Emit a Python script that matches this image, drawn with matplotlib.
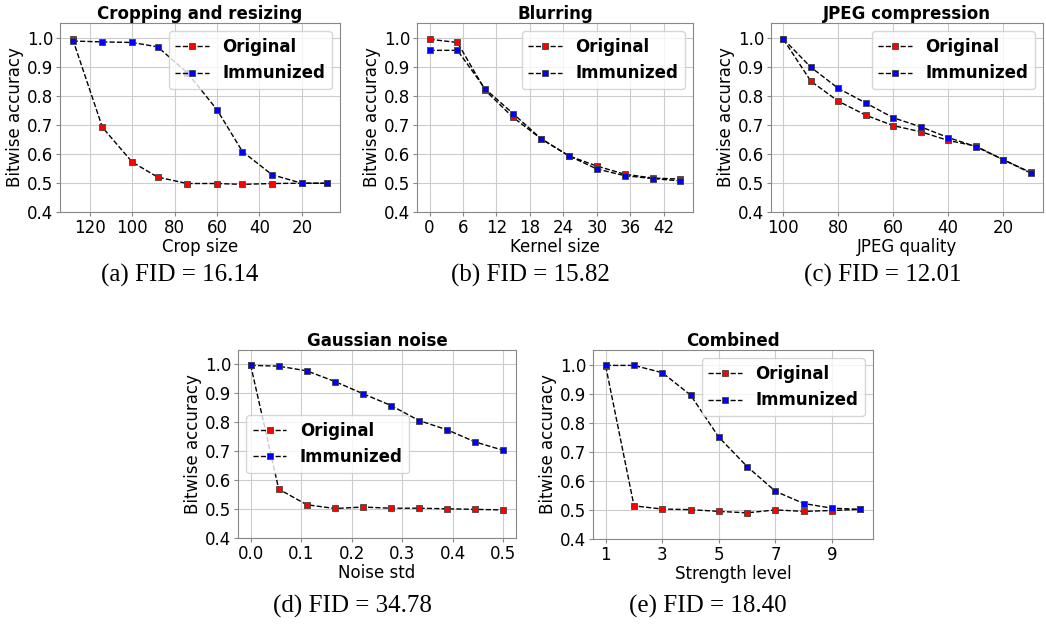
import matplotlib
matplotlib.use('Agg')
import matplotlib.pyplot as plt
import numpy as np

plt.rcParams['font.family'] = 'DejaVu Sans'

# Dados
crop_x = [128, 114, 100, 88, 74, 60, 48, 34, 20, 8]
crop_orig = [0.994, 0.691, 0.572, 0.520, 0.498, 0.498, 0.495, 0.498, 0.499, 0.499]
crop_imm = [0.988, 0.985, 0.983, 0.968, 0.879, 0.752, 0.608, 0.528, 0.499, 0.499]

blur_x = [0, 5, 10, 15, 20, 25, 30, 35, 40, 45]
blur_orig = [0.994, 0.983, 0.818, 0.725, 0.652, 0.593, 0.558, 0.530, 0.517, 0.513]
blur_imm = [0.956, 0.956, 0.823, 0.738, 0.652, 0.593, 0.548, 0.525, 0.515, 0.507]

jpeg_x = [100, 90, 80, 70, 60, 50, 40, 30, 20, 10]
jpeg_orig = [0.994, 0.850, 0.781, 0.733, 0.697, 0.676, 0.646, 0.627, 0.580, 0.536]
jpeg_imm = [0.995, 0.898, 0.825, 0.775, 0.724, 0.693, 0.656, 0.625, 0.580, 0.534]

noise_x = [0.0, 0.0556, 0.1111, 0.1667, 0.2222, 0.2778, 0.3333, 0.3889, 0.4444, 0.5]
noise_orig = [0.998, 0.569, 0.515, 0.502, 0.507, 0.503, 0.503, 0.501, 0.499, 0.497]
noise_imm = [0.997, 0.994, 0.978, 0.941, 0.899, 0.858, 0.806, 0.774, 0.732, 0.703]

comb_x = [1, 2, 3, 4, 5, 6, 7, 8, 9, 10]
comb_orig = [0.994, 0.514, 0.503, 0.501, 0.495, 0.490, 0.500, 0.495, 0.498, 0.502]
comb_imm = [0.997, 0.997, 0.972, 0.895, 0.750, 0.649, 0.564, 0.522, 0.506, 0.502]

captions = ['(a) FID = 16.14', '(b) FID = 15.82', '(c) FID = 12.01',
            '(d) FID = 34.78', '(e) FID = 18.40']

W, H = 1046, 628
fig = plt.figure(figsize=(W / 100, H / 100), dpi=100)


def make_ax(l, r, t, b):
    return fig.add_axes([l / W, 1 - b / H, (r - l) / W, (b - t) / H])


paineis = [
    (make_ax(60, 340, 23, 212), crop_x, crop_orig, crop_imm, 'Cropping and resizing', 'Crop size', 'upper right'),
    (make_ax(417, 693, 23, 212), blur_x, blur_orig, blur_imm, 'Blurring', 'Kernel size', 'upper right'),
    (make_ax(771, 1043, 23, 212), jpeg_x, jpeg_orig, jpeg_imm, 'JPEG compression', 'JPEG quality', 'upper right'),
    (make_ax(238, 516, 350, 538), noise_x, noise_orig, noise_imm, 'Gaussian noise', 'Noise std', 'center left'),
    (make_ax(593, 873, 350, 539), comb_x, comb_orig, comb_imm, 'Combined', 'Strength level', 'upper right'),
]

for ax, x, orig, imm, titulo, xlab, loc in paineis:
    ax.plot(x, orig, '--s', color='black', lw=1, markersize=4.5,
            markerfacecolor='red', markeredgecolor='#444444', markeredgewidth=0.6, label='Original')
    ax.plot(x, imm, '--s', color='black', lw=1, markersize=4.5,
            markerfacecolor='blue', markeredgecolor='#444444', markeredgewidth=0.6, label='Immunized')
    ax.set_ylim(0.4, 1.05)
    ax.set_yticks([0.4, 0.5, 0.6, 0.7, 0.8, 0.9, 1.0])
    ax.set_title(titulo, fontsize=12, fontweight='bold', pad=3)
    ax.set_xlabel(xlab, fontsize=12, labelpad=1)
    ax.set_ylabel('Bitwise accuracy', fontsize=12, labelpad=2)
    ax.tick_params(labelsize=12, length=3, pad=2, color='#888888')
    ax.grid(True, color='#cccccc', lw=0.8)
    ax.set_axisbelow(True)
    for s in ax.spines.values():
        s.set_color('#888888')
    ax.legend(loc=loc, prop={'weight': 'bold', 'size': 12}, framealpha=0.8)

paineis[0][0].invert_xaxis()
paineis[0][0].set_xticks([120, 100, 80, 60, 40, 20])
paineis[1][0].set_xticks([0, 6, 12, 18, 24, 30, 36, 42])
paineis[2][0].invert_xaxis()
paineis[2][0].set_xticks([100, 80, 60, 40, 20])
paineis[3][0].set_xticks([0.0, 0.1, 0.2, 0.3, 0.4, 0.5])
paineis[4][0].set_xticks([1, 3, 5, 7, 9])

cap_pos = [(180, 275), (530, 275), (883, 275), (352, 606), (708, 606)]
for (cx, cy), txt in zip(cap_pos, captions):
    fig.text(cx / W, 1 - cy / H, txt, ha='center', va='center',
             family='Liberation Serif', fontsize=18)

fig.savefig('out.png', dpi=100)
